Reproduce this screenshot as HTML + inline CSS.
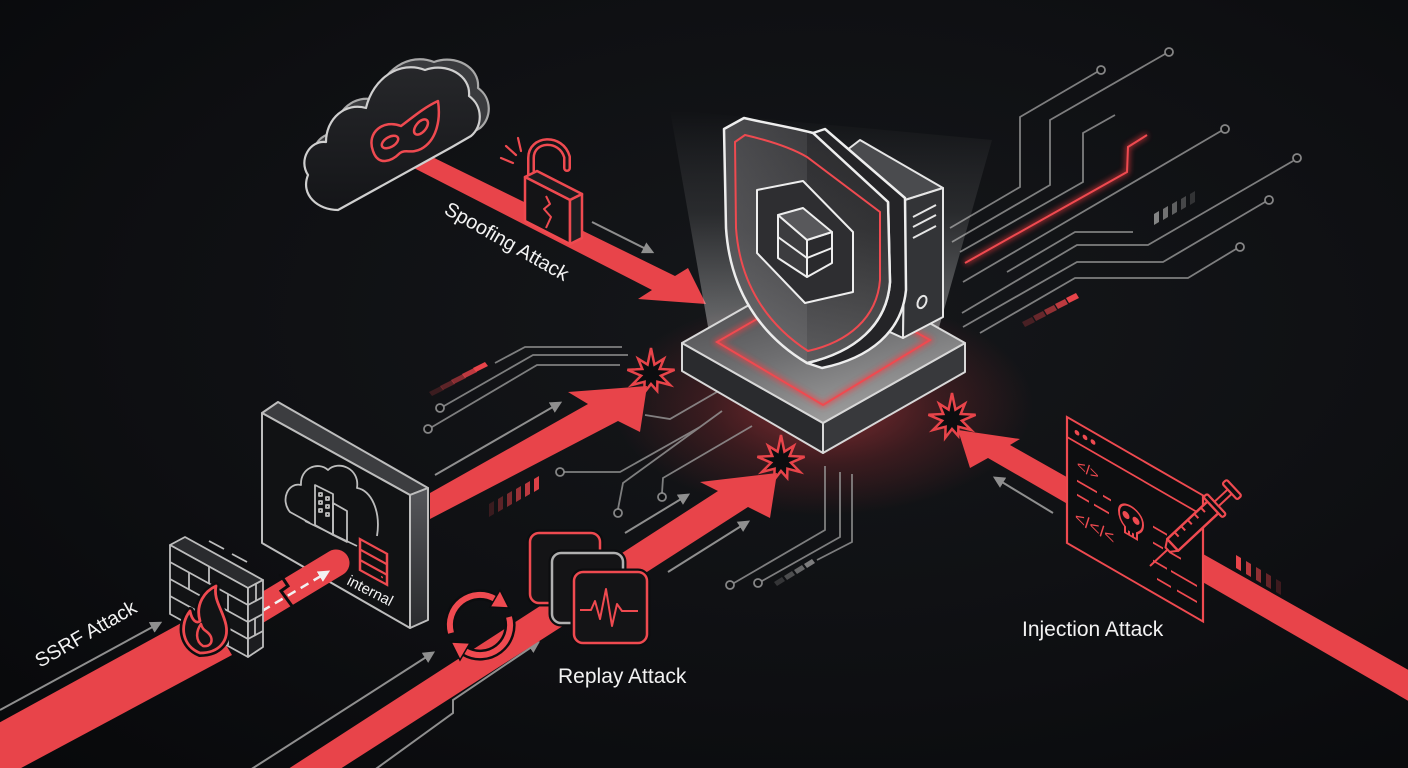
<!DOCTYPE html>
<html><head><meta charset="utf-8"><style>
html,body{margin:0;padding:0;background:#0c0d0f;}
svg{display:block;}
text{font-family:"Liberation Sans",Arial,sans-serif;}
</style></head><body>
<svg width="1408" height="768" viewBox="0 0 1408 768" xmlns="http://www.w3.org/2000/svg">
<defs>
<radialGradient id="bg" cx="0.58" cy="0.42" r="0.8">
<stop offset="0" stop-color="#15171a"/><stop offset="0.6" stop-color="#0e0f12"/><stop offset="1" stop-color="#08090b"/>
</radialGradient>
<radialGradient id="glow" cx="0.5" cy="0.5" r="0.5">
<stop offset="0" stop-color="#e8444a" stop-opacity="0.55"/><stop offset="0.55" stop-color="#c8343a" stop-opacity="0.22"/><stop offset="1" stop-color="#c8343a" stop-opacity="0"/>
</radialGradient>
<linearGradient id="beam" x1="0" y1="0" x2="0" y2="1">
<stop offset="0" stop-color="#ffffff" stop-opacity="0"/><stop offset="0.45" stop-color="#d0d0d0" stop-opacity="0.12"/><stop offset="1" stop-color="#e0e0e0" stop-opacity="0.45"/>
</linearGradient>
<linearGradient id="top" x1="0" y1="0" x2="0.5" y2="1">
<stop offset="0" stop-color="#3a3a3d"/><stop offset="0.6" stop-color="#6e6e70"/><stop offset="1" stop-color="#9c9c9c"/>
</linearGradient>
<linearGradient id="shf" x1="0" y1="0" x2="1" y2="0">
<stop offset="0" stop-color="#4a4a4d"/><stop offset="0.5" stop-color="#3c3c3f"/><stop offset="0.5" stop-color="#2c2c2f"/><stop offset="1" stop-color="#262628"/>
</linearGradient>
<linearGradient id="wallside" x1="0" y1="0" x2="0" y2="1">
<stop offset="0" stop-color="#55565a"/><stop offset="1" stop-color="#2a2b2e"/>
</linearGradient>
<linearGradient id="cloudf" x1="0" y1="0" x2="0" y2="1">
<stop offset="0" stop-color="#26272a"/><stop offset="1" stop-color="#141518"/>
</linearGradient>
<filter id="blur" x="-50%" y="-50%" width="200%" height="200%"><feGaussianBlur stdDeviation="3"/></filter>
<marker id="ah" viewBox="0 0 10 10" refX="6" refY="5" markerWidth="12" markerHeight="12" markerUnits="userSpaceOnUse" orient="auto"><path d="M0,0 L10,5 L0,10 z" fill="#8f8f8f"/></marker>
<marker id="ahw" viewBox="0 0 10 10" refX="6" refY="5" markerWidth="12" markerHeight="12" markerUnits="userSpaceOnUse" orient="auto"><path d="M0,0 L10,5 L0,10 z" fill="#f2f2f2"/></marker>
</defs>

<rect width="1408" height="768" fill="url(#bg)"/>
<ellipse cx="823" cy="405" rx="210" ry="110" fill="url(#glow)"/>

<!-- right circuits -->
<g fill="none" stroke="#9a9a9a" stroke-width="1.8" opacity="0.8">
<path d="M950,228 L1020,187 L1020,117 L1097,72"/>
<path d="M952,242 L1050,185 L1050,120 L1165,54"/>
<path d="M960,252 L1083,182 L1083,133 L1115,115"/>
<path d="M963,282 L1221,131"/>
<path d="M1007,272 L1075,232 L1133,232"/>
<path d="M962,313 L1077,245 L1148,245 L1293,161"/>
<path d="M963,327 L1077,262 L1163,262 L1265,202"/>
<path d="M980,333 L1075,278 L1188,278 L1236,249"/>
</g>
<g fill="#0d0e10" stroke="#9a9a9a" stroke-width="1.8" opacity="0.85">
<circle cx="1101" cy="70" r="4"/><circle cx="1169" cy="52" r="4"/><circle cx="1225" cy="129" r="4"/>
<circle cx="1297" cy="158" r="4"/><circle cx="1269" cy="200" r="4"/><circle cx="1240" cy="247" r="4"/>
</g>
<path d="M965,263 L1127,172 L1128,147 L1147,135" fill="none" stroke="#ff3a40" stroke-width="4" filter="url(#blur)" opacity="0.7"/>
<path d="M965,263 L1127,172 L1128,147 L1147,135" fill="none" stroke="#ef4a50" stroke-width="2"/>
<g fill="#8a8a8a">
<polygon points="1154,214 1159,211 1159,222 1154,225" opacity="0.95"/>
<polygon points="1163,209 1168,206 1168,217 1163,220" opacity="0.8"/>
<polygon points="1172,204 1177,201 1177,212 1172,215" opacity="0.65"/>
<polygon points="1181,199 1186,196 1186,207 1181,210" opacity="0.45"/>
<polygon points="1190,194 1195,191 1195,202 1190,205" opacity="0.28"/>
</g>
<g fill="#e8444a">
<polygon points="1022,322 1032,317 1035,322 1025,327" opacity="0.25"/>
<polygon points="1033,316 1043,311 1046,316 1036,321" opacity="0.4"/>
<polygon points="1044,310 1054,305 1057,310 1047,315" opacity="0.6"/>
<polygon points="1055,304 1065,299 1068,304 1058,309" opacity="0.8"/>
<polygon points="1066,298 1076,293 1079,298 1069,303" opacity="1"/>
</g>

<!-- left-mid circuits -->
<g fill="none" stroke="#9a9a9a" stroke-width="1.8" opacity="0.8">
<path d="M495,363 L525,347 L622,347"/>
<path d="M444,406 L533,355 L628,355"/>
<path d="M432,427 L537,365 L620,365"/>
<path d="M645,415 L670,419 L722,389"/>
<path d="M564,472 L620,472 L700,427"/>
<path d="M618,509 L623,483 L722,411"/>
<path d="M662,493 L663,478 L752,426"/>
<path d="M825,466 L825,530 L734,583"/>
<path d="M840,472 L840,537 L762,581"/>
<path d="M852,474 L852,542 L817,560"/>
</g>
<g fill="#0d0e10" stroke="#9a9a9a" stroke-width="1.8" opacity="0.85">
<circle cx="440" cy="408" r="4"/><circle cx="428" cy="429" r="4"/><circle cx="560" cy="472" r="4"/>
<circle cx="618" cy="513" r="4"/><circle cx="662" cy="497" r="4"/><circle cx="730" cy="585" r="4"/><circle cx="758" cy="583" r="4"/>
</g>
<g fill="#e8444a">
<polygon points="429,392 441,386 444,390 432,396" opacity="0.2"/>
<polygon points="440,386 452,380 455,384 443,390" opacity="0.35"/>
<polygon points="451,380 463,374 466,378 454,384" opacity="0.55"/>
<polygon points="462,374 474,368 477,372 465,378" opacity="0.8"/>
<polygon points="473,368 485,362 488,366 476,372" opacity="1"/>
</g>
<g fill="#e8444a">
<polygon points="489,504 494,501 494,514 489,517" opacity="0.2"/>
<polygon points="498,499 503,496 503,509 498,512" opacity="0.35"/>
<polygon points="507,494 512,491 512,504 507,507" opacity="0.5"/>
<polygon points="516,489 521,486 521,499 516,502" opacity="0.65"/>
<polygon points="525,484 530,481 530,494 525,497" opacity="0.8"/>
<polygon points="534,479 539,476 539,489 534,492" opacity="0.95"/>
</g>
<g fill="#8a8a8a">
<polygon points="774,582 782,577 785,581 777,586" opacity="0.3"/>
<polygon points="784,576 792,571 795,575 787,580" opacity="0.5"/>
<polygon points="794,570 802,565 805,569 797,574" opacity="0.7"/>
<polygon points="804,564 812,559 815,563 807,568" opacity="0.9"/>
</g>
<g fill="#e8444a">
<polygon points="1236,555 1241,558 1241,571 1236,568" opacity="1"/>
<polygon points="1246,561 1251,564 1251,577 1246,574" opacity="0.8"/>
<polygon points="1256,567 1261,570 1261,583 1256,580" opacity="0.6"/>
<polygon points="1266,573 1271,576 1271,589 1266,586" opacity="0.4"/>
<polygon points="1276,579 1281,582 1281,595 1276,592" opacity="0.22"/>
</g>

<!-- gray arrows -->
<g fill="none" stroke="#8f8f8f" stroke-width="2" marker-end="url(#ah)">
<line x1="592" y1="222" x2="650" y2="251"/>
<line x1="435" y1="475" x2="558" y2="404"/>
<line x1="625" y1="533" x2="686" y2="496"/>
<line x1="668" y1="572" x2="746" y2="523"/>
<line x1="0" y1="710" x2="158" y2="624"/>
<line x1="250" y1="770" x2="431" y2="654"/>
<polyline points="373,771 453,713 453,700 536,644"/>
<line x1="1053" y1="513" x2="997" y2="479"/>
</g>

<!-- starbursts -->
<g fill="#0c0d0f" stroke="#e8444a" stroke-width="2.5" stroke-linejoin="miter">
<polygon transform="translate(651,374)" points="0,-26 3.4,-9.4 12.9,-15.3 8.7,-5 23.6,-4.2 9.9,1.7 19.1,11 6.4,7.7 6.2,16.9 0,10 -6.8,18.8 -6.4,7.7 -19.1,11 -9.9,1.7 -23.6,-4.2 -8.7,-5 -12.9,-15.3 -3.4,-9.4"/>
<polygon transform="translate(781,461)" points="0,-26 3.4,-9.4 12.9,-15.3 8.7,-5 23.6,-4.2 9.9,1.7 19.1,11 6.4,7.7 6.2,16.9 0,10 -6.8,18.8 -6.4,7.7 -19.1,11 -9.9,1.7 -23.6,-4.2 -8.7,-5 -12.9,-15.3 -3.4,-9.4"/>
<polygon transform="translate(952,419)" points="0,-26 3.4,-9.4 12.9,-15.3 8.7,-5 23.6,-4.2 9.9,1.7 19.1,11 6.4,7.7 6.2,16.9 0,10 -6.8,18.8 -6.4,7.7 -19.1,11 -9.9,1.7 -23.6,-4.2 -8.7,-5 -12.9,-15.3 -3.4,-9.4"/>
</g>

<!-- red bands / arrows -->
<g fill="#e8444a">
<polygon points="-5,725 205,610 232,655 -5,782"/>
<polygon points="418,150 675,276 688,268 706,304 638,299 652,290 410,166"/>
<polygon points="430,493 588,404 568,392 647,386 640,432 618,421 430,519"/>
<polygon points="285,771 718,491 700,482 777,473 770,518 748,507 337,771"/>
<polygon points="958,430 1020,439 1010,445 1412,672 1412,703 988,458 970,468"/>
</g>

<!-- beam + platform -->
<polygon points="670,110 992,140 936,338 710,338" fill="url(#beam)"/>
<polygon points="682,343 823,423 823,453 682,371" fill="#2a2b2e" stroke="#d8d8d8" stroke-width="2" stroke-linejoin="round"/>
<polygon points="823,423 965,343 965,372 823,453" fill="#38393c" stroke="#d8d8d8" stroke-width="2" stroke-linejoin="round"/>
<polygon points="682,343 823,263 965,343 823,423" fill="url(#top)" stroke="#d8d8d8" stroke-width="2" stroke-linejoin="round"/>
<polygon points="717,342 823,281 930,340 823,405" fill="none" stroke="#ff3a40" stroke-width="4" filter="url(#blur)" opacity="0.8"/>
<polygon points="717,342 823,281 930,340 823,405" fill="none" stroke="#ef4a50" stroke-width="2"/>

<!-- server box -->
<polygon points="847,150 905,200 903,338 868,322" fill="#2a2b2e" stroke="#e6e6e6" stroke-width="2" stroke-linejoin="round"/>
<polygon points="847,150 860,140 943,188 905,200" fill="#4a4b4e" stroke="#e6e6e6" stroke-width="2" stroke-linejoin="round"/>
<polygon points="905,200 943,188 943,317 903,338" fill="#333437" stroke="#e6e6e6" stroke-width="2" stroke-linejoin="round"/>
<g stroke="#e6e6e6" stroke-width="2" fill="none">
<line x1="913" y1="217" x2="936" y2="205"/><line x1="913" y1="227" x2="936" y2="215"/><line x1="913" y1="238" x2="936" y2="226"/>
<ellipse cx="922" cy="302" rx="4" ry="6.5" transform="rotate(25 922 302)"/>
</g>

<!-- shield -->
<path d="M813,133 L825,129 L905,198 L906,290 C902,332 870,358 822,368 L807,363 C855,352 887,325 890,282 L888,202 Z" fill="#242427" stroke="#eeeeee" stroke-width="2.5" stroke-linejoin="round"/>
<path d="M724,129 L744,118 C770,124 795,128 813,133 L888,202 L890,282 C887,325 855,352 807,363 C760,335 730,290 726,228 Z" fill="url(#shf)" stroke="#eeeeee" stroke-width="2.5" stroke-linejoin="round"/>
<path d="M724,129 L744,118 C770,124 795,128 813,133 L888,202 L890,282 C887,325 855,352 807,363 C760,335 730,290 726,228 Z" fill="url(#beam)" opacity="0.6"/>
<path d="M735,142 L745,135 C775,142 795,150 807,157 L880,212 L880,280 C877,318 848,342 808,351 C768,325 740,285 736,228 Z" fill="none" stroke="#ef4a50" stroke-width="2"/>
<polygon points="757,190 803,181 853,232 853,292 805,303 757,253" fill="#2e2e31" stroke="#eeeeee" stroke-width="2" stroke-linejoin="round"/>
<polygon points="778,258 807,277 807,240 778,215" fill="#3c3c3f" stroke="#eeeeee" stroke-width="2" stroke-linejoin="round"/>
<polygon points="807,240 832,232 832,263 807,277" fill="#2a2a2d" stroke="#eeeeee" stroke-width="2" stroke-linejoin="round"/>
<polygon points="778,215 803,208 832,232 807,240" fill="#58585b" stroke="#eeeeee" stroke-width="2" stroke-linejoin="round"/>
<polyline points="778,237 807,258 832,248" fill="none" stroke="#eeeeee" stroke-width="2"/>

<!-- cloud (extruded) -->
<path transform="translate(9,-8)" d="M338,210 C318,210 300,195 308,175 C298,160 310,140 326,142 C326,118 346,102 366,108 C373,78 400,60 425,70 C446,62 471,75 469,96 C483,106 483,126 471,136 L452,147 Z" fill="#3a3b3e" stroke="#a8a8a8" stroke-width="2.2" stroke-linejoin="round"/>
<path d="M338,210 C318,210 300,195 308,175 C298,160 310,140 326,142 C326,118 346,102 366,108 C373,78 400,60 425,70 C446,62 471,75 469,96 C483,106 483,126 471,136 L452,147 Z" fill="url(#cloudf)" stroke="#cfcfcf" stroke-width="2.2" stroke-linejoin="round"/>
<!-- mask -->
<g fill="none" stroke="#ef4a50" stroke-width="2.5" stroke-linejoin="round">
<path d="M373,151 C366,132 384,119 401,126 C412,118 423,108 438,101 C441,121 436,141 421,149 C411,154 406,149 400,153 C391,162 378,166 373,151 Z" fill="#1a1b1e"/>
<ellipse cx="390" cy="142" rx="9" ry="5" transform="rotate(-30 390 142)"/>
<ellipse cx="421" cy="127" rx="9" ry="5" transform="rotate(-50 421 127)"/>
</g>

<!-- padlock -->
<g stroke-linejoin="round">
<path d="M531,180 L531,158 C531,138 561,136 567,157 L567,168" fill="none" stroke="#ef4a50" stroke-width="8" stroke-linecap="round"/>
<path d="M531,180 L531,158 C531,138 561,136 567,157 L567,168" fill="none" stroke="#141416" stroke-width="3" stroke-linecap="round"/>
<polygon points="525,177 537,171 582,194 570,200" fill="#1c1c1f" stroke="#ef4a50" stroke-width="2.5"/>
<polygon points="525,177 570,200 570,244 525,221" fill="#141416" stroke="#ef4a50" stroke-width="2.5"/>
<polygon points="570,200 582,194 582,238 570,244" fill="#1e1e21" stroke="#ef4a50" stroke-width="2.5"/>
<polyline points="546,196 550,204 544,209 551,217 546,228" fill="none" stroke="#ef4a50" stroke-width="2"/>
<g stroke="#ef4a50" stroke-width="2.2" stroke-linecap="round">
<line x1="501" y1="158" x2="513" y2="163"/><line x1="506" y1="146" x2="516" y2="155"/><line x1="518" y1="138" x2="521" y2="151"/>
</g>
</g>

<!-- wall box -->
<polygon points="262,413 278,402 428,488 410,495" fill="#3c3d40" stroke="#bdbdbd" stroke-width="2" stroke-linejoin="round"/>
<polygon points="410,495 428,488 428,620 410,628" fill="url(#wallside)" stroke="#bdbdbd" stroke-width="2" stroke-linejoin="round"/>
<polygon points="262,413 410,495 410,628 262,543" fill="#111214" stroke="#bdbdbd" stroke-width="2" stroke-linejoin="round"/>
<g fill="none" stroke="#bdbdbd" stroke-width="1.8" stroke-linejoin="round">
<path d="M310,523 L290,512 C280,500 288,482 301,485 C300,468 318,461 328,470 C338,460 360,468 357,488 C371,490 381,511 377,536"/>
<line x1="305" y1="521" x2="357" y2="546"/>
<polygon points="315,485 333,494 333,535 315,525"/>
<polygon points="333,503 347,511 347,542 333,535"/>
<rect x="319" y="493" width="3" height="3"/><rect x="326" y="497" width="3" height="3"/>
<rect x="319" y="501" width="3" height="3"/><rect x="326" y="505" width="3" height="3"/>
<rect x="319" y="509" width="3" height="3"/><rect x="326" y="513" width="3" height="3"/>
</g>
<g transform="matrix(1,0.55,0,1,360,539)" fill="#111" stroke="#ef4a50" stroke-width="2.5">
<rect x="0" y="0" width="27" height="31"/>
<line x1="0" y1="10.5" x2="27" y2="10.5"/><line x1="0" y1="21" x2="27" y2="21"/>
<circle cx="22" cy="26" r="1" fill="#ef4a50" stroke="none"/>
</g>

<!-- pipe -->
<line x1="250" y1="615" x2="336" y2="563" stroke="#e8444a" stroke-width="27" stroke-linecap="round"/>
<polyline points="280,574 288,586 281,591 292,606" fill="none" stroke="#0c0d0f" stroke-width="3"/>
<line x1="262" y1="611" x2="326" y2="573" stroke="#f2f2f2" stroke-width="2.5" stroke-dasharray="9 6" marker-end="url(#ahw)"/>

<!-- firewall -->
<g stroke="#bdbdbd" stroke-width="1.8" stroke-linejoin="round">
<polygon points="170,545 185,537 263,580 248,588" fill="#2a2b2e"/>
<polygon points="170,545 248,588 248,657 170,614" fill="#121315"/>
<polygon points="248,588 263,580 263,647 248,657" fill="#1c1d20"/>
<line x1="170" y1="562" x2="248" y2="605"/><line x1="170" y1="579" x2="248" y2="622"/><line x1="170" y1="596" x2="248" y2="639"/>
<line x1="248" y1="605" x2="263" y2="597"/><line x1="248" y1="622" x2="263" y2="614"/><line x1="248" y1="639" x2="263" y2="631"/>
<line x1="209" y1="566" x2="209" y2="583"/>
<line x1="189" y1="572" x2="189" y2="589"/><line x1="228" y1="594" x2="228" y2="611"/>
<line x1="209" y1="600" x2="209" y2="617"/>
<line x1="189" y1="606" x2="189" y2="623"/><line x1="228" y1="628" x2="228" y2="645"/>
<line x1="256" y1="584" x2="256" y2="601"/><line x1="255" y1="618" x2="255" y2="635"/>
<line x1="209" y1="541" x2="224" y2="549"/><line x1="232" y1="554" x2="247" y2="562"/>
</g>
<g fill="#121315" stroke-linejoin="round">
<path d="M200,653 C182,646 179,625 190,611 C192,621 197,624 200,621 C195,604 205,591 216,586 C213,600 223,610 226,625 C229,641 219,653 200,653 Z" stroke="#0c0d0f" stroke-width="8"/>
<path d="M200,653 C182,646 179,625 190,611 C192,621 197,624 200,621 C195,604 205,591 216,586 C213,600 223,610 226,625 C229,641 219,653 200,653 Z" stroke="#ef4a50" stroke-width="2.8"/>
<path d="M203,646 C195,641 196,631 201,624 C203,632 208,630 211,637 C213,643 209,647 203,646 Z" fill="none" stroke="#ef4a50" stroke-width="2.5"/>
</g>

<!-- replay icons -->
<g stroke-linejoin="round">
<rect x="530" y="533" width="70" height="70" rx="9" fill="#141416" stroke="#0c0d0f" stroke-width="7"/>
<rect x="530" y="533" width="70" height="70" rx="9" fill="#141416" stroke="#ef4a50" stroke-width="2.5"/>
<rect x="552" y="553" width="71" height="70" rx="9" fill="#141416" stroke="#0c0d0f" stroke-width="7"/>
<rect x="552" y="553" width="71" height="70" rx="9" fill="#141416" stroke="#b0b0b0" stroke-width="2.5"/>
<rect x="574" y="572" width="73" height="71" rx="9" fill="#141416" stroke="#0c0d0f" stroke-width="7"/>
<rect x="574" y="572" width="73" height="71" rx="9" fill="#141416" stroke="#ef4a50" stroke-width="2.5"/>
<polyline points="580,610 591,610 595,601 600,619 606,589 612,626 617,604 622,611 638,611" fill="none" stroke="#ef4a50" stroke-width="2"/>
</g>
<g fill="none" stroke-linecap="butt">
<path d="M451,633 A30,30 0 0 1 495,599" stroke="#0c0d0f" stroke-width="11"/>
<path d="M509,617 A30,30 0 0 1 465,651" stroke="#0c0d0f" stroke-width="11"/>
<path d="M451,633 A30,30 0 0 1 495,599" stroke="#ef4a50" stroke-width="6"/>
<path d="M509,617 A30,30 0 0 1 465,651" stroke="#ef4a50" stroke-width="6"/>
</g>
<polygon points="490,607 500,590 509,608" fill="#ef4a50" stroke="#0c0d0f" stroke-width="1.5"/>
<polygon points="470,643 460,660 451,642" fill="#ef4a50" stroke="#0c0d0f" stroke-width="1.5"/>

<!-- browser window injection -->
<g transform="matrix(1,0.577,0,1,1067,417)">
<rect x="0" y="0" width="136" height="126" fill="#0d0e10" stroke="#ef4a50" stroke-width="2.2"/>
<line x1="0" y1="20" x2="136" y2="20" stroke="#ef4a50" stroke-width="2"/>
<circle cx="10" cy="10" r="2.4" fill="#ef4a50"/><circle cx="18" cy="10" r="2.4" fill="#ef4a50"/><circle cx="26" cy="10" r="2.4" fill="#ef4a50"/>
<text x="10" y="46" font-size="15" fill="#ef4a50">&lt;/&gt;</text>
<g stroke="#ef4a50" stroke-width="2" fill="none">
<line x1="10" y1="58" x2="30" y2="58"/><line x1="36" y1="58" x2="44" y2="58"/>
<line x1="10" y1="72" x2="22" y2="72"/><line x1="27" y1="72" x2="42" y2="72"/>
<line x1="86" y1="60" x2="100" y2="60"/><line x1="104" y1="60" x2="112" y2="60"/>
<line x1="86" y1="76" x2="96" y2="76"/><line x1="102" y1="76" x2="114" y2="76"/>
<line x1="86" y1="94" x2="100" y2="94"/><line x1="104" y1="94" x2="130" y2="94"/>
<line x1="90" y1="110" x2="104" y2="110"/><line x1="110" y1="110" x2="130" y2="110"/>
<path d="M52,64 C52,49 76,49 76,64 C76,71 72,74 70,76 L70,82 L58,82 L58,76 C55,74 52,71 52,64 Z"/>
<line x1="62" y1="78" x2="62" y2="82"/><line x1="66" y1="78" x2="66" y2="82"/>
</g>
<circle cx="59" cy="64" r="3.5" fill="#ef4a50"/><circle cx="69" cy="64" r="3.5" fill="#ef4a50"/>
<text x="8" y="100" font-size="17" fill="#ef4a50">&lt;/&lt;/&lt;</text>
</g>
<!-- syringe -->
<g transform="translate(1150,566) rotate(-43)" stroke-linejoin="round">
<line x1="0" y1="0" x2="24" y2="0" stroke="#ef4a50" stroke-width="2"/>
<polygon points="24,-3 31,-8 31,8 24,3" fill="#0d0e10" stroke="#ef4a50" stroke-width="2"/>
<rect x="31" y="-8" width="55" height="16" fill="#0d0e10" stroke="#ef4a50" stroke-width="2.5"/>
<g stroke="#ef4a50" stroke-width="2"><line x1="41" y1="-8" x2="41" y2="-2"/><line x1="50" y1="-8" x2="50" y2="-2"/><line x1="59" y1="-8" x2="59" y2="-2"/><line x1="68" y1="-8" x2="68" y2="-2"/><line x1="77" y1="-8" x2="77" y2="-2"/></g>
<rect x="86" y="-14" width="5" height="28" rx="2" fill="#0d0e10" stroke="#ef4a50" stroke-width="2.2"/>
<rect x="91" y="-3" width="18" height="6" fill="#0d0e10" stroke="#ef4a50" stroke-width="2"/>
<rect x="109" y="-11" width="6" height="22" rx="2" fill="#0d0e10" stroke="#ef4a50" stroke-width="2.2"/>
</g>

<!-- labels -->
<g fill="#f2f2f2">
<text transform="translate(443,213) rotate(29.5)" font-size="20">Spoofing Attack</text>
<text transform="translate(40,668) rotate(-30)" font-size="20">SSRF Attack</text>
<text transform="translate(346,584) rotate(27)" font-size="15">internal</text>
<text x="558" y="683" font-size="21">Replay Attack</text>
<text x="1022" y="636" font-size="21">Injection Attack</text>
</g>
</svg>
</body></html>
